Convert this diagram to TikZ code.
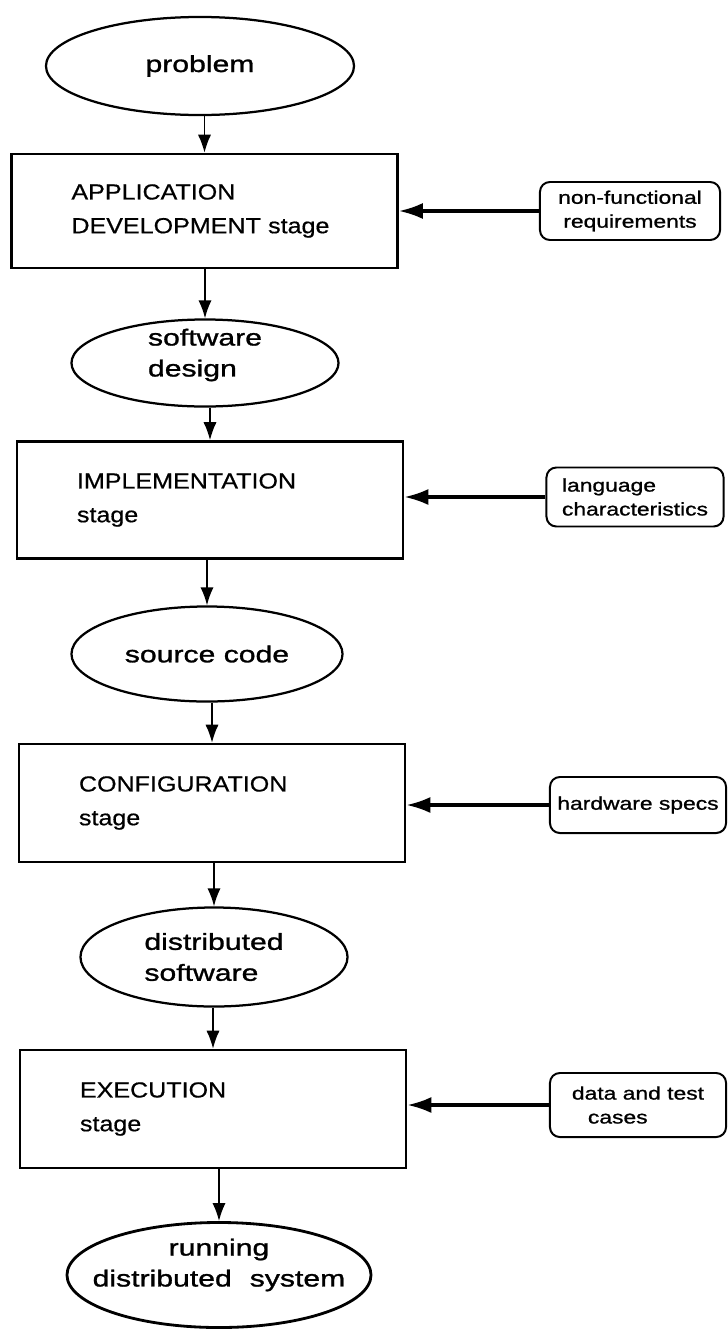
\documentclass[tikz,border=0pt]{standalone}
\usepackage{fontspec}
\setmainfont{Liberation Sans}
\newfontfamily\stagefont[FakeStretch=1.15, FakeBold=0.6]{Liberation Sans}
\newfontfamily\ovalfont[FakeStretch=1.3, FakeBold=1.2]{Liberation Sans}
\newfontfamily\notefont[FakeStretch=1.25, FakeBold=1]{Liberation Sans}
\usepackage{tikz}
\usetikzlibrary{shapes.geometric, arrows.meta, positioning}

\tikzset{
    stagebox/.style={draw, line width=1.8pt, rectangle, text width=6.65cm, inner xsep=1.5cm, inner ysep=0pt, align=left, font=\stagefont\fontsize{15.5}{24}\selectfont},
    oval/.style={draw, ellipse, line width=1.6pt, inner sep=0pt},
    ovaltext/.style={inner sep=0pt, font=\ovalfont\fontsize{16.5}{22}\selectfont},
    notebox/.style={draw, rectangle, rounded corners=7pt, line width=1.4pt, inner sep=0pt, font=\notefont\fontsize{13}{17}\selectfont},
    flow/.style={-{Latex[length=0.45cm, width=0.33cm]}, line width=1.2pt},
    feed/.style={-{Latex[length=0.6cm, width=0.4cm]}, line width=2.2pt}
}

\begin{document}
\begin{tikzpicture}[x=0.025cm, y=-0.025cm]
    \useasboundingbox (0,0) rectangle (728,1329);

    \node[oval, minimum width=7.7cm, minimum height=2.45cm, label={[ovaltext]center:problem}] (problem) at (200,66) {};
    \node[stagebox, minimum height=2.85cm] (appdev) at (204.5,211) {APPLICATION\\DEVELOPMENT stage};
    \node[notebox, align=center, minimum width=4.5cm, minimum height=1.45cm] (nonfunc) at (630,211) {non-functional\\requirements};

    \node[oval, minimum width=6.675cm, minimum height=2.175cm, label={[ovaltext, align=left, yshift=0.2cm]center:software\\design}] (swdesign) at (205,363) {};
    \node[stagebox, minimum height=2.925cm] (impl) at (210,500) {IMPLEMENTATION\\stage};
    \node[notebox, align=left, minimum width=4.425cm, minimum height=1.475cm] (lang) at (635,497) {language\\characteristics};

    \node[oval, minimum width=6.775cm, minimum height=2.375cm, label={[ovaltext]center:source code}] (source) at (207,654) {};
    \node[stagebox, minimum height=2.95cm] (config) at (212,803) {CONFIGURATION\\stage};
    \node[notebox, align=center, minimum width=4.4cm, minimum height=1.4cm] (hwspecs) at (638,805) {hardware specs};

    \node[oval, minimum width=6.675cm, minimum height=2.475cm, label={[ovaltext, align=left]center:distributed\\software}] (distsw) at (214,957) {};
    \node[stagebox, minimum height=2.95cm] (exec) at (213,1109) {EXECUTION\\stage};
    \node[notebox, align=left, minimum width=4.4cm, minimum height=1.6cm] (testdata) at (638,1105) {data and test\\\hspace*{0.4cm}cases};

    \node[oval, line width=2pt, minimum width=7.6cm, minimum height=2.625cm, label={[ovaltext, align=center, yshift=0.25cm]center:running\\distributed\hspace{0.45cm}system}] (running) at (219,1275) {};

    \draw[flow] (appdev.north |- problem.south) -- (appdev.north);
    \draw[flow] (swdesign.north |- appdev.south) -- (swdesign.north);
    \draw[flow] (impl.north |- swdesign.south) -- (impl.north);
    \draw[flow] (source.north |- impl.south) -- (source.north);
    \draw[flow] (config.north |- source.south) -- (config.north);
    \draw[flow] (distsw.north |- config.south) -- (distsw.north);
    \draw[flow] (exec.north |- distsw.south) -- (exec.north);
    \draw[flow] (running.north |- exec.south) -- (running.north);

    \draw[feed] (nonfunc.west) -- (nonfunc.west -| appdev.east);
    \draw[feed] (lang.west) -- (lang.west -| impl.east);
    \draw[feed] (hwspecs.west) -- (hwspecs.west -| config.east);
    \draw[feed] (testdata.west) -- (testdata.west -| exec.east);
\end{tikzpicture}
\end{document}
